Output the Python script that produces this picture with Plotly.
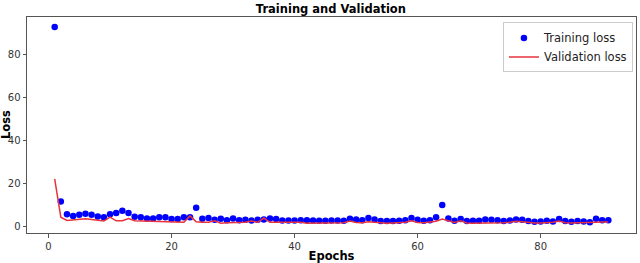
import plotly.graph_objects as go

epochs = list(range(1, 92))

training_loss = [
    92.7, 11.6, 5.7, 4.8, 5.4, 5.9, 5.4, 4.6, 4.3, 5.6,
    6.2, 7.3, 6.2, 4.5, 4.3, 3.7, 3.7, 4.2, 4.2, 3.4,
    3.4, 4.3, 4.2, 8.7, 3.6, 3.9, 3.1, 3.6, 2.9, 3.7,
    2.9, 3.1, 2.8, 3.1, 3.2, 3.7, 3.4, 2.8, 2.8, 2.8,
    2.9, 2.9, 2.8, 2.6, 2.6, 2.8, 2.8, 2.6, 3.6, 3.2,
    2.9, 3.9, 3.2, 2.5, 2.5, 2.5, 2.6, 2.9, 3.9, 3.1,
    2.6, 2.9, 4.3, 9.9, 3.7, 2.6, 3.4, 2.5, 2.6, 2.6,
    3.2, 3.1, 2.9, 2.5, 2.8, 3.2, 3.1, 2.5, 2.2, 2.3,
    2.6, 2.3, 3.4, 2.5, 2.2, 2.5, 2.3, 1.9, 3.6, 2.9,
    2.9,
]

validation_loss = [
    22.1, 4.3, 2.8, 3.1, 3.4, 3.6, 3.2, 2.9, 2.5, 4.3,
    2.6, 2.6, 3.7, 2.6, 2.5, 2.5, 2.3, 2.2, 1.9, 1.8,
    1.9, 1.9, 4.9, 2.2, 1.9, 1.9, 2.6, 1.5, 1.7, 1.7,
    1.9, 1.9, 2.5, 1.9, 3.9, 1.9, 1.9, 1.9, 1.7, 1.7,
    1.9, 1.5, 1.5, 1.5, 1.5, 1.6, 1.7, 1.7, 2.5, 1.8,
    1.7, 2.2, 1.9, 1.6, 1.5, 1.6, 1.7, 1.9, 2.6, 1.8,
    1.7, 2.0, 2.4, 3.4, 2.7, 1.8, 2.6, 1.6, 1.5, 1.5,
    1.6, 1.7, 1.8, 1.7, 1.9, 2.4, 2.2, 1.8, 1.6, 1.6,
    1.8, 1.9, 2.5, 1.7, 1.6, 1.6, 1.6, 1.6, 1.9, 2.0,
    2.1,
]

x_ticks = [0, 20, 40, 60, 80]
y_ticks = [0, 20, 40, 60, 80]

fig = go.Figure()
fig.add_trace(go.Scatter(
    x=epochs, y=training_loss, mode="markers", name="Training loss",
    marker=dict(color="#0000ff", size=6.5),
))
fig.add_trace(go.Scatter(
    x=epochs, y=validation_loss, mode="lines", name="Validation loss",
    line=dict(color="#e8333c", width=1.5),
))

axis_common = dict(
    showgrid=False, zeroline=False, showline=True, mirror=True, automargin=False,
    linecolor="#555555", linewidth=1, ticks="outside", ticklen=3.5,
    tickcolor="#555555", tickfont=dict(family="DejaVu Sans", size=10, color="#333333"),
)

plot_w = 640 - 27 - 4

fig.update_layout(
    width=640, height=263,
    margin=dict(l=27, r=4, t=17, b=30, autoexpand=False),
    paper_bgcolor="white", plot_bgcolor="white",
    title=dict(text="<b>Training and Validation</b>", x=0.517, xanchor="center",
               y=0.965, yanchor="middle",
               font=dict(family="DejaVu Sans", size=11.5, color="black")),
    xaxis=dict(range=[-3.5, 95.5], tickvals=x_ticks,
               title=dict(text="<b>Epochs</b>", standoff=2,
                          font=dict(family="DejaVu Sans", size=11.5, color="black")),
               **axis_common),
    yaxis=dict(range=[-3.06, 97.3], tickvals=y_ticks, **axis_common),
    legend=dict(x=0.995, y=0.975, xanchor="right", yanchor="top",
                bgcolor="rgba(255,255,255,0.8)", bordercolor="#cccccc", borderwidth=1,
                font=dict(family="DejaVu Sans", size=11.5, color="#222222"),
                itemwidth=30, tracegroupgap=0),
    showlegend=True,
    annotations=[dict(
        text="<b>Loss</b>", textangle=-90, showarrow=False,
        xref="paper", yref="paper", x=(6 - 27) / plot_w, y=0.5,
        xanchor="center", yanchor="middle",
        font=dict(family="DejaVu Sans", size=11.5, color="black"),
    )],
)

fig.write_html(
    "out.html",
    config={"displayModeBar": False},
    post_script="document.body.style.margin='0';document.body.style.padding='0';",
)
